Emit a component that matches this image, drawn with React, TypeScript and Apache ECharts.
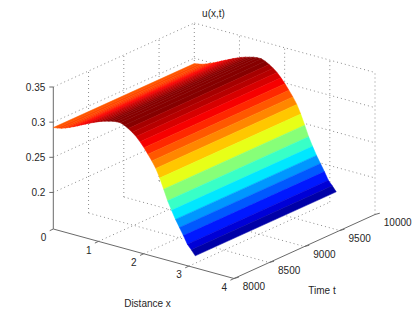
import React, { useEffect, useRef } from "react";
import * as echarts from "echarts";

// Spatial grid x = i * pi / 36 and the solution profile u(x,t), constant along t
const stripCount = 36;
const uProfile = [
  0.2923, 0.2932, 0.2944, 0.2963, 0.2986, 0.3011, 0.3038, 0.3067, 0.3094, 0.3121,
  0.3148, 0.3172, 0.3195, 0.3214, 0.3229, 0.3244, 0.3252, 0.3253, 0.3232, 0.3201,
  0.3164, 0.3118, 0.3058, 0.299, 0.2912, 0.2833, 0.2741, 0.262, 0.2477, 0.2328,
  0.2206, 0.2093, 0.1993, 0.1893, 0.1786, 0.1722, 0.1651,
];
const xEnd = Math.PI;
const tStart = 8000;
const tEnd = 10000;

const xTicks = [0, 1, 2, 3, 4];
const tTicks = [8000, 8500, 9000, 9500, 10000];
const zTicks = [0.2, 0.25, 0.3, 0.35];
const zTickLabels = ["0.2", "0.25", "0.3", "0.35"];

const xLim = [0, 4];
const tLim = [8000, 10000];
const zLim = [0.148, 0.35];

const title = "u(x,t)";
const xTitle = "Distance x";
const tTitle = "Time t";

// Oblique projection of the 3-D box on to the page
const origin = [53.3, 229];
const xVec = [180.7, 49.5];
const tVec = [141, -64];
const zVec = [0, -142];

function project(x: number, t: number, z: number): number[] {
  const a = (x - xLim[0]) / (xLim[1] - xLim[0]);
  const b = (t - tLim[0]) / (tLim[1] - tLim[0]);
  const c = (z - zLim[0]) / (zLim[1] - zLim[0]);
  return [
    origin[0] + a * xVec[0] + b * tVec[0] + c * zVec[0],
    origin[1] + a * xVec[1] + b * tVec[1] + c * zVec[1],
  ];
}

function jet(v: number): string {
  const q = Math.min(63, Math.max(0, Math.floor(v * 64)));
  const s = (q + 0.5) / 64;
  const ch = (c: number) => Math.round(255 * Math.min(1, Math.max(0, 1.5 - Math.abs(4 * s - c))));
  return `rgb(${ch(3)},${ch(2)},${ch(1)})`;
}

const uMin = Math.min(...uProfile);
const uMax = Math.max(...uProfile);

const F = "'Liberation Sans', Arial, sans-serif";
const TXT = "#262626";
const AX = "#6a6a6a";
const DOT = "#8c8c8c";

type Seg = [number, number, number, number, number, number];

function gridSegments(): Seg[] {
  const out: Seg[] = [];
  const [z0, z1] = zLim;
  const [x0, x1] = xLim;
  const [t0, t1] = tLim;
  xTicks.slice(1).forEach((x) => {
    if (x < x1) out.push([x, t0, z0, x, t1, z0]);
    out.push([x, t1, z0, x, t1, z1]);
  });
  tTicks.slice(1).forEach((t) => {
    if (t < t1) out.push([x0, t, z0, x1, t, z0]);
    out.push([x0, t, z0, x0, t, z1]);
  });
  zTicks.forEach((z) => {
    out.push([x0, t0, z, x0, t1, z]);
    out.push([x0, t1, z, x1, t1, z]);
  });
  return out;
}

function axisSegments(): Seg[] {
  const [z0, z1] = zLim;
  const [x0, x1] = xLim;
  const [t0, t1] = tLim;
  return [
    [x0, t0, z0, x1, t0, z0],
    [x1, t0, z0, x1, t1, z0],
    [x0, t0, z0, x0, t0, z1],
  ];
}

function segmentRender(color: string, dash: number[] | null) {
  return (_p: any, api: any) => {
    const a = project(api.value(0), api.value(1), api.value(2));
    const b = project(api.value(3), api.value(4), api.value(5));
    const p = api.coord(a);
    const q = api.coord(b);
    return {
      type: "line",
      shape: { x1: p[0], y1: p[1], x2: q[0], y2: q[1] },
      style: { stroke: color, lineWidth: 1, lineDash: dash || undefined, fill: null },
    };
  };
}

export default function App() {
  const ref = useRef<HTMLDivElement>(null);
  useEffect(() => {
    const chart = echarts.init(ref.current!, undefined, { renderer: "svg" });

    const strips = uProfile.slice(0, stripCount).map((u, i) => [
      (i * xEnd) / stripCount,
      ((i + 1) * xEnd) / stripCount,
      u,
      uProfile[i + 1],
    ]);

    type Lab = { text: string; pos: number[]; align: string };
    const labels: Lab[] = [];
    xTicks.forEach((x) => {
      const p = project(x, tLim[0], zLim[0]);
      labels.push({ text: String(x), pos: [p[0] - 9.8, p[1] + 8.7], align: "center" });
    });
    tTicks.forEach((t) => {
      const p = project(xLim[1], t, zLim[0]);
      labels.push({ text: String(t), pos: [p[0] + 8.8, p[1] + 7.5], align: "left" });
    });
    zTicks.forEach((z, i) => {
      const p = project(xLim[0], tLim[0], z);
      labels.push({ text: zTickLabels[i], pos: [p[0] - 8, p[1]], align: "right" });
    });
    labels.push({ text: title, pos: [213.5, 13], align: "center" });
    labels.push({ text: xTitle, pos: [147.5, 303], align: "center" });
    labels.push({ text: tTitle, pos: [322, 290], align: "center" });

    const ticks: number[][] = [];
    xTicks.forEach((x) => {
      const p = project(x, tLim[0], zLim[0]);
      ticks.push([p[0], p[1], p[0] - 3.6, p[1] + 1.7]);
    });
    tTicks.forEach((t) => {
      const p = project(xLim[1], t, zLim[0]);
      ticks.push([p[0], p[1], p[0] + 4.8, p[1] - 1.3]);
    });
    zTicks.forEach((z) => {
      const p = project(xLim[0], tLim[0], z);
      ticks.push([p[0], p[1], p[0] - 4, p[1]]);
    });

    chart.setOption({
      animation: false,
      grid: { left: 0, right: 0, top: 0, bottom: 0 },
      xAxis: { type: "value", min: 0, max: 415, show: false },
      yAxis: { type: "value", min: 0, max: 313, inverse: true, show: false },
      graphic: labels.map((l) => ({
        type: "text",
        z: 10,
        silent: true,
        x: l.pos[0],
        y: l.pos[1],
        style: {
          text: l.text,
          textAlign: l.align,
          textVerticalAlign: "middle",
          fill: TXT,
          fontSize: 10,
          fontFamily: F,
        },
      })),
      series: [
        {
          type: "custom",
          clip: false,
          silent: true,
          z: 1,
          data: gridSegments(),
          encode: { x: 0, y: 1 },
          renderItem: segmentRender(DOT, [1, 3]),
        },
        {
          type: "custom",
          clip: false,
          silent: true,
          z: 2,
          data: axisSegments(),
          encode: { x: 0, y: 1 },
          renderItem: segmentRender(AX, null),
        },
        {
          type: "custom",
          clip: false,
          silent: true,
          z: 2,
          data: ticks,
          encode: { x: 0, y: 1 },
          renderItem: (_p: any, api: any) => {
            const p = api.coord([api.value(0), api.value(1)]);
            const q = api.coord([api.value(2), api.value(3)]);
            return {
              type: "line",
              shape: { x1: p[0], y1: p[1], x2: q[0], y2: q[1] },
              style: { stroke: AX, lineWidth: 1, fill: null },
            };
          },
        },
        {
          type: "custom",
          clip: false,
          silent: true,
          z: 3,
          data: strips,
          encode: { x: 0, y: 2 },
          renderItem: (_p: any, api: any) => {
            const x0 = api.value(0);
            const x1 = api.value(1);
            const u0 = api.value(2);
            const u1 = api.value(3);
            const pts = [
              project(x0, tStart, u0),
              project(x1, tStart, u1),
              project(x1, tEnd, u1),
              project(x0, tEnd, u0),
            ].map((q) => api.coord(q));
            const color = jet((u0 - uMin) / (uMax - uMin));
            return {
              type: "polygon",
              shape: { points: pts },
              style: { fill: color, stroke: color, lineWidth: 0.5 },
            };
          },
        },
      ],
    });
    return () => chart.dispose();
  }, []);
  return (
    <div
      ref={ref}
      style={{ position: "fixed", left: 0, top: 0, width: 415, height: 313, background: "#fff" }}
    />
  );
}
